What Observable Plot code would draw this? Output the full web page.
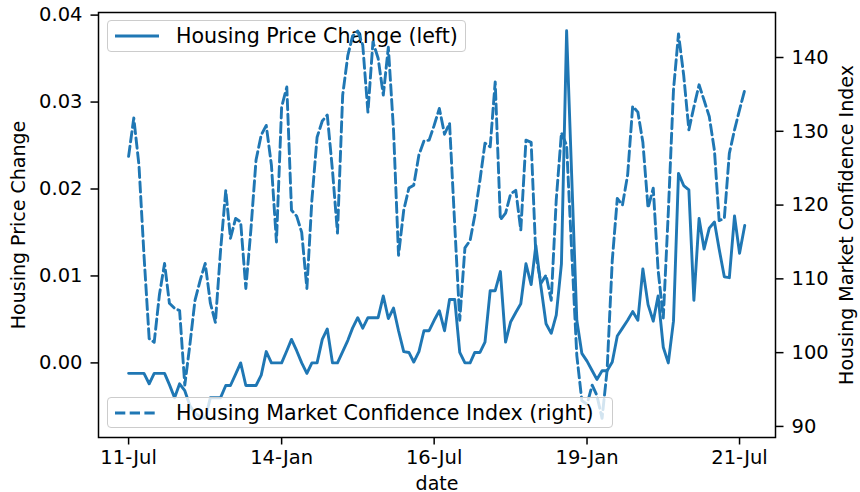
<!DOCTYPE html>
<html><head><meta charset="utf-8">
<script src="https://cdn.jsdelivr.net/npm/d3@7"></script>
<script src="https://cdn.jsdelivr.net/npm/@observablehq/plot@0.6"></script>
<style>
body{margin:0;background:#fff;}
#chart{position:relative;width:860px;height:492px;font-family:"DejaVu Sans",sans-serif;}
#chart svg.plot{position:absolute;left:0;top:0;}
.legend{position:absolute;background:rgba(255,255,255,0.8);border:1px solid #cccccc;border-radius:4px;box-sizing:border-box;display:flex;align-items:center;font-size:20.6px;color:#000;white-space:nowrap;}
.legend svg{flex:none;}
</style></head><body><div id="chart"></div>
<script>
const months = [
"2011-07","2011-08","2011-09","2011-10","2011-11","2011-12",
"2012-01","2012-02","2012-03","2012-04","2012-05","2012-06","2012-07","2012-08","2012-09","2012-10","2012-11","2012-12",
"2013-01","2013-02","2013-03","2013-04","2013-05","2013-06","2013-07","2013-08","2013-09","2013-10","2013-11","2013-12",
"2014-01","2014-02","2014-03","2014-04","2014-05","2014-06","2014-07","2014-08","2014-09","2014-10","2014-11","2014-12",
"2015-01","2015-02","2015-03","2015-04","2015-05","2015-06","2015-07","2015-08","2015-09","2015-10","2015-11","2015-12",
"2016-01","2016-02","2016-03","2016-04","2016-05","2016-06","2016-07","2016-08","2016-09","2016-10","2016-11","2016-12",
"2017-01","2017-02","2017-03","2017-04","2017-05","2017-06","2017-07","2017-08","2017-09","2017-10","2017-11","2017-12",
"2018-01","2018-02","2018-03","2018-04","2018-05","2018-06","2018-07","2018-08","2018-09","2018-10","2018-11","2018-12",
"2019-01","2019-02","2019-03","2019-04","2019-05","2019-06","2019-07","2019-08","2019-09","2019-10","2019-11","2019-12",
"2020-01","2020-02","2020-03","2020-04","2020-05","2020-06","2020-07","2020-08","2020-09","2020-10","2020-11","2020-12",
"2021-01","2021-02","2021-03","2021-04","2021-05","2021-06","2021-07","2021-08"
];
const priceChange = [
-0.0012,-0.0012,-0.0012,-0.0012,-0.0024,-0.0012,
-0.0012,-0.0012,-0.0025,-0.0040,-0.0024,-0.0032,-0.0049,-0.0058,-0.0062,-0.0064,-0.0040,-0.0040,
-0.0040,-0.0026,-0.0026,-0.0013,0.0000,-0.0026,-0.0026,-0.0026,-0.0014,0.0013,0.0000,0.0000,
0.0000,0.0014,0.0027,0.0014,0.0000,-0.0012,0.0000,0.0000,0.0027,0.0039,0.0000,0.0000,
0.0013,0.0026,0.0040,0.0052,0.0040,0.0052,0.0052,0.0052,0.0077,0.0051,0.0063,0.0037,
0.0013,0.0012,0.0001,0.0013,0.0037,0.0037,0.0049,0.0060,0.0037,0.0073,0.0073,0.0012,
0.0000,0.0000,0.0012,0.0012,0.0024,0.0083,0.0083,0.0105,0.0024,0.0047,0.0058,0.0068,
0.0114,0.0090,0.0135,0.0087,0.0045,0.0034,0.0055,0.0114,0.0382,0.0217,0.0049,0.0011,
0.0002,-0.0009,-0.0019,-0.0009,-0.0009,0.0001,0.0031,0.0040,0.0049,0.0059,0.0049,0.0108,
0.0067,0.0048,0.0077,0.0018,0.0000,0.0048,0.0218,0.0204,0.0199,0.0072,0.0166,0.0131,
0.0155,0.0162,0.0131,0.0099,0.0098,0.0169,0.0126,0.0158
];
const confidence = [
126.6,131.8,125.4,113.2,101.9,101.4,
107.8,112.1,106.7,106.0,105.7,95.6,101.0,107.1,109.8,112.1,106.7,104.1,
113.9,122.0,115.5,118.2,117.7,108.7,116.6,126.1,129.5,130.8,125.4,115.0,
133.3,136.0,119.3,118.5,116.3,108.7,120.7,129.2,131.4,132.2,124.7,116.2,
134.9,140.3,142.9,143.6,141.7,132.6,142.1,139.9,134.9,141.4,130.2,113.2,
119.3,122.3,122.7,126.8,128.7,128.8,130.8,133.1,129.6,131.1,117.3,104.4,
114.2,115.2,118.6,123.4,128.4,127.9,136.7,118.0,118.9,121.5,122.0,116.6,
128.8,128.5,113.2,109.4,110.5,107.1,120.7,129.8,128.1,113.9,99.6,93.5,
93.0,95.6,94.2,91.1,97.6,112.5,120.9,120.0,124.1,133.4,132.6,128.5,
119.6,122.3,111.2,104.7,119.0,135.6,143.2,137.6,130.2,133.3,136.3,134.2,
132.0,127.4,117.9,118.2,127.0,130.2,132.9,135.6
];
const tickDates = ["2011-07-01","2014-01-01","2016-07-01","2019-01-01","2021-07-01"];
const tickLabels = ["11-Jul","14-Jan","16-Jul","19-Jan","21-Jul"];
const leftTicks = [0, 0.01, 0.02, 0.03, 0.04];
const rightTicks = [90, 100, 110, 120, 130, 140];
const seriesNames = ["Housing Price Change (left)", "Housing Market Confidence Index (right)"];
const axisTitles = ["date", "Housing Price Change", "Housing Market Confidence Index"];

const blue = "#1f77b4";
const parseMonth = d3.utcParse("%Y-%m");
const parseDay = d3.utcParse("%Y-%m-%d");
const data = months.map((m, i) => ({date: parseMonth(m), price: priceChange[i], conf: confidence[i]}));
const tickObjs = tickDates.map(parseDay);
const xDomain = [new Date(Date.UTC(2011, 0, 2)), new Date(Date.UTC(2022, 1, 1))];
const FS = 19.5;
const TS = 19;

const common = {
  width: 860, height: 492,
  marginLeft: 98, marginRight: 85, marginTop: 12, marginBottom: 55,
  style: {fontFamily: '"DejaVu Sans", sans-serif', fontSize: FS + "px", background: "transparent", color: "#000", overflow: "visible"}
};

const plotA = Plot.plot({
  ...common,
  x: {type: "utc", domain: xDomain},
  y: {domain: [-0.00858, 0.0403]},
  marks: [
    Plot.lineY(data, {x: "date", y: "price", stroke: blue, strokeWidth: 2.9, strokeLinejoin: "round"}),
    Plot.frame({stroke: "#000", strokeWidth: 1.5}),
    Plot.axisX({ticks: tickObjs, tickFormat: d => tickLabels[tickObjs.findIndex(t => +t === +d)], tickSize: 7.5, tickPadding: 5, strokeWidth: 1.5, label: null, fontSize: FS}),
    Plot.axisY({ticks: leftTicks, tickFormat: d3.format(".2f"), tickSize: 7.5, tickPadding: 8.5, strokeWidth: 1.5, label: null, fontSize: FS}),
    Plot.text([axisTitles[0]], {text: d => d, frameAnchor: "bottom", dy: 46, lineAnchor: "middle", textAnchor: "middle", fontSize: TS, fill: "#000"}),
    Plot.text([axisTitles[1]], {text: d => d, frameAnchor: "left", dx: -80, rotate: -90, textAnchor: "middle", lineAnchor: "middle", fontSize: TS, fill: "#000"})
  ]
});

const plotB = Plot.plot({
  ...common,
  x: {type: "utc", domain: xDomain, axis: null},
  y: {domain: [88.5, 146.1]},
  marks: [
    Plot.lineY(data, {x: "date", y: "conf", stroke: blue, strokeWidth: 2.9, strokeDasharray: "10.3,4.4"}),
    Plot.axisY({anchor: "right", ticks: rightTicks, tickSize: 7.5, tickPadding: 8.5, strokeWidth: 1.5, label: null, fontSize: FS}),
    Plot.text([axisTitles[2]], {text: d => d, frameAnchor: "right", dx: 71, rotate: -90, textAnchor: "middle", lineAnchor: "middle", fontSize: TS, fill: "#000"})
  ]
});

const chart = document.getElementById("chart");
plotA.classList.add("plot");
plotB.classList.add("plot");

function legend(name, dashed, left, top, width, height, z) {
  const div = document.createElement("div");
  div.className = "legend";
  Object.assign(div.style, {left: left + "px", top: top + "px", width: width + "px", height: height + "px", zIndex: z});
  const ns = "http://www.w3.org/2000/svg";
  const s = document.createElementNS(ns, "svg");
  s.setAttribute("width", 68); s.setAttribute("height", 20);
  const l = document.createElementNS(ns, "line");
  l.setAttribute("x1", 7); l.setAttribute("x2", 51); l.setAttribute("y1", 10); l.setAttribute("y2", 10);
  l.setAttribute("stroke", blue); l.setAttribute("stroke-width", 2.9);
  if (dashed) l.setAttribute("stroke-dasharray", "10.3,4.4");
  s.appendChild(l);
  const span = document.createElement("span");
  span.textContent = name;
  div.appendChild(s); div.appendChild(span);
  return div;
}

plotA.style.zIndex = 1;
plotB.style.zIndex = 3;
chart.appendChild(plotA);
chart.appendChild(legend(seriesNames[0], false, 107, 20, 359, 32, 2));
chart.appendChild(plotB);
chart.appendChild(legend(seriesNames[1], true, 107, 397, 506, 31, 4));
</script>
</body></html>
